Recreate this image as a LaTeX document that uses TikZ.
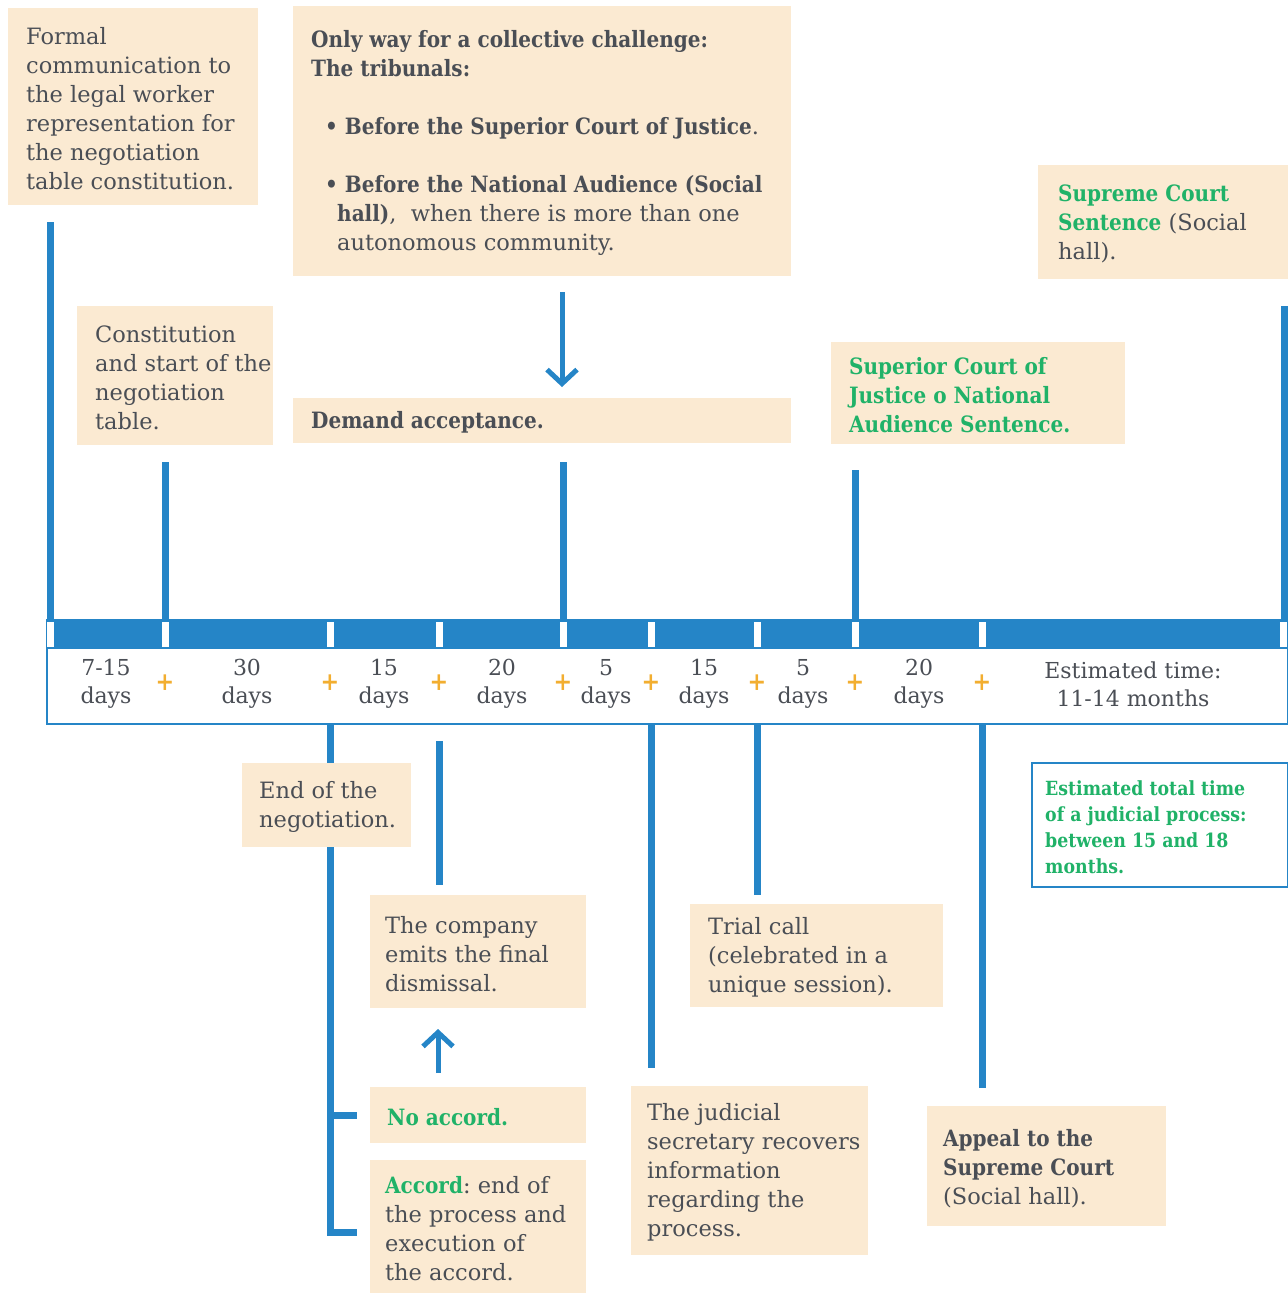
\documentclass[tikz,border=0pt]{standalone}
\usepackage{fontspec}
\setmainfont{DejaVu Serif}[BoldFeatures={FakeStretch=0.89}]
\usetikzlibrary{arrows.meta}
\definecolor{tlblue}{HTML}{2585C7}
\definecolor{beige}{HTML}{FBEAD2}
\definecolor{txtgray}{HTML}{4A4E55}
\definecolor{tlgreen}{HTML}{20B268}
\definecolor{plusor}{HTML}{F2AE30}
\newcommand{\gbf}[1]{\textbf{\textcolor{tlgreen}{#1}}}
\frenchspacing
\begin{document}
\begin{tikzpicture}[x=1pt,y=-1pt,
  box/.style={fill=beige, draw=none, anchor=north west, inner sep=0pt},
  txt/.style={anchor=west, align=left, inner sep=0pt, yshift=-2pt, text=txtgray, font=\fontsize{22.5}{29}\selectfont},
  vline/.style={draw=tlblue, line width=7pt, line join=miter},
  arr/.style={draw=tlblue, line width=5pt, -{Straight Barb[length=14pt,width=30pt]}},
  barlbl/.style={align=center, inner sep=0pt, text=txtgray, font=\fontsize{22}{28}\selectfont},
  plus/.style={text=plusor, font=\fontsize{25}{25}\selectfont\bfseries, inner sep=0pt},
  tickw/.style={fill=white, draw=none, minimum width=7pt, minimum height=25pt, inner sep=0pt}
]
\useasboundingbox (0,0) rectangle (1288,1294);

% ---------- timeline bar ----------
\node[draw=tlblue, line width=2pt, fill=white, anchor=north west, minimum width=1241pt, minimum height=104pt, inner sep=0pt] (bar) at (46,619) {};
\fill[tlblue] (bar.north west) rectangle ([yshift=-30pt]bar.north east);

% ---------- vertical lines above ----------
\coordinate (u1) at (50,222);
\coordinate (u2) at (165,462);
\coordinate (u3) at (563,462);
\coordinate (u4) at (855,470);
\coordinate (u5) at (1284,306);
\foreach \c in {u1,u2,u3,u4,u5} \draw[vline] (\c) -- (\c |- bar.north);

% ---------- vertical lines below ----------
\coordinate (d1) at (330,1232);
\coordinate (d2a) at (439,741);
\coordinate (d2b) at (439,885);
\coordinate (d3) at (651,1068);
\coordinate (d4) at (757,895);
\coordinate (d5) at (982,1088);
\draw[vline] (d1 |- bar.south) -- (d1) -- ++(27,0);
\draw[vline] (330,1115) coordinate (br) -- ++(27,0);
\draw[vline] (d2a) -- (d2b);
\foreach \c in {d3,d4,d5} \draw[vline] (\c |- bar.south) -- (\c);

% ---------- ticks ----------
\foreach \x [count=\i] in {50,165,330,439,563,651,757,855,982,1283}
  \node[tickw] (k\i) at (\x,634) {};

% ---------- bar labels ----------
\node[barlbl] (l1) at (106,684) {7-15\\days};
\node[barlbl] (l2) at (247,684) {30\\days};
\node[barlbl] (l3) at (384,684) {15\\days};
\node[barlbl] (l4) at (502,684) {20\\days};
\node[barlbl] (l5) at (606,684) {5\\days};
\node[barlbl] (l6) at (704,684) {15\\days};
\node[barlbl] (l7) at (803,684) {5\\days};
\node[barlbl] (l8) at (919,684) {20\\days};
\node[barlbl] (l9) at (1133,684) {Estimated time:\\11-14 months};
\foreach \x [count=\i] in {165,330,439,563,651,757,855,982}
  \node[plus] (p\i) at (\x,683) {+};

% ---------- boxes ----------
\node[box, minimum width=250pt, minimum height=197pt] (bformal) at (8,8) {};
\node[txt] (tformal) at ([xshift=18pt]bformal.west) {Formal\\communication to\\the legal worker\\representation for\\the negotiation\\table constitution.};

\node[box, minimum width=498pt, minimum height=270pt] (bway) at (293,6) {};
\node[txt] (tway) at ([xshift=18pt]bway.west) {\textbf{Only way for a collective challenge:}\\\textbf{The tribunals:}\\[29pt]
\hspace*{14pt}\textbf{• Before the Superior Court of Justice}.\\[29pt]
\hspace*{14pt}\textbf{• Before the National Audience (Social}\\
\hspace*{26pt}\textbf{hall)},\ \ when there is more than one\\
\hspace*{26pt}autonomous community.};

\node[box, minimum width=250pt, minimum height=114pt] (bsup) at (1038,165) {};
\node[txt] (tsup) at ([xshift=20pt]bsup.west) {\gbf{Supreme Court}\\\gbf{Sentence} (Social\\hall).};

\node[box, minimum width=196pt, minimum height=139pt] (bconst) at (77,306) {};
\node[txt] (tconst) at ([xshift=18pt]bconst.west) {Constitution\\and start of the\\negotiation\\table.};

\node[box, minimum width=498pt, minimum height=45pt] (bdem) at (293,398) {};
\node[txt] (tdem) at ([xshift=18pt]bdem.west) {\textbf{Demand acceptance.}};

\node[box, minimum width=294pt, minimum height=102pt] (bsjn) at (831,342) {};
\node[txt] (tsjn) at ([xshift=18pt]bsjn.west) {\gbf{Superior Court of}\\\gbf{Justice o National}\\\gbf{Audience Sentence.}};

\node[box, minimum width=169pt, minimum height=84pt] (bend) at (242,763) {};
\node[txt] (tend) at ([xshift=17pt]bend.west) {End of the\\negotiation.};

\node[box, minimum width=216pt, minimum height=113pt] (bcomp) at (370,895) {};
\node[txt] (tcomp) at ([xshift=15pt]bcomp.west) {The company\\emits the final\\dismissal.};

\node[box, minimum width=253pt, minimum height=103pt] (btrial) at (690,904) {};
\node[txt] (ttrial) at ([xshift=18pt]btrial.west) {Trial call\\(celebrated in a\\unique session).};

\node[draw=tlblue, line width=2pt, fill=white, anchor=north west, minimum width=256pt, minimum height=124pt, inner sep=0pt] (best) at (1031,762) {};
\node[txt, font=\fontsize{19.5}{26}\selectfont] (test) at ([xshift=14pt]best.west) {\gbf{Estimated total time}\\\gbf{of a judicial process:}\\\gbf{between 15 and 18}\\\gbf{months.}};

\node[box, minimum width=216pt, minimum height=56pt] (bno) at (370,1087) {};
\node[txt] (tno) at ([xshift=17pt]bno.west) {\gbf{No accord.}};

\node[box, minimum width=216pt, minimum height=133pt] (bacc) at (370,1160) {};
\node[txt] (tacc) at ([xshift=15pt]bacc.west) {\gbf{Accord}: end of\\the process and\\execution of\\the accord.};

\node[box, minimum width=237pt, minimum height=169pt] (bjud) at (631,1086) {};
\node[txt] (tjud) at ([xshift=16pt]bjud.west) {The judicial\\secretary recovers\\information\\regarding the\\process.};

\node[box, minimum width=239pt, minimum height=120pt] (bapp) at (927,1106) {};
\node[txt] (tapp) at ([xshift=16pt]bapp.west) {\textbf{Appeal to the}\\\textbf{Supreme Court}\\(Social hall).};

% ---------- arrows ----------
\coordinate (a1s) at (562,292);
\draw[arr] (a1s) -- (a1s |- 0,387);
\coordinate (a2s) at (438,1073);
\draw[arr] (a2s) -- (a2s |- 0,1029);
\end{tikzpicture}
\end{document}
